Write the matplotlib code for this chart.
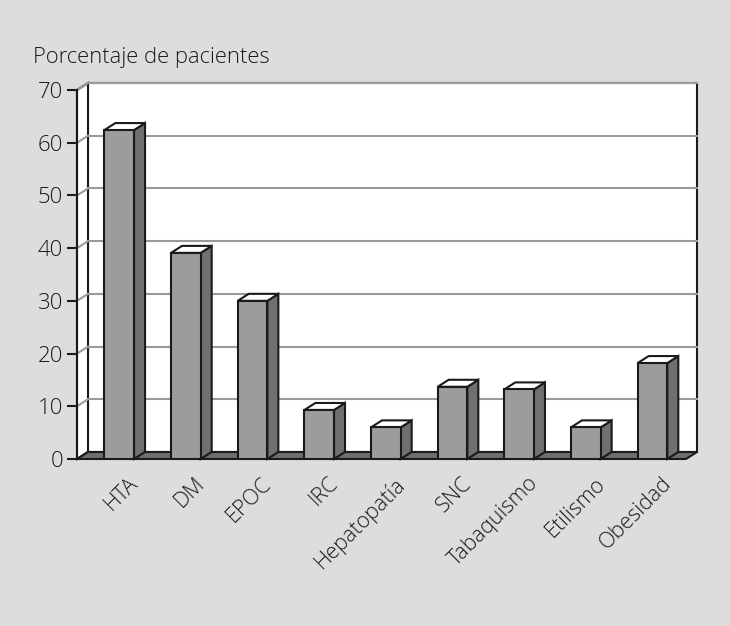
import matplotlib.pyplot as plt
from matplotlib.patches import Polygon

categorias = ["HTA", "DM", "EPOC", "IRC", "Hepatopatía", "SNC",
              "Tabaquismo", "Etilismo", "Obesidad"]
porcentajes = [62.4, 39.1, 30.0, 9.3, 6.0, 13.7, 13.2, 6.0, 18.2]
yticks = [0, 10, 20, 30, 40, 50, 60, 70]

fondo = "#dddddd"
cara = "#9c9c9e"
lado = "#707070"
suelo = "#6e6e6e"
rejilla = "#9a9a9a"

plt.rcParams["font.family"] = ["Open Sans", "DejaVu Sans"]
plt.rcParams["font.weight"] = "light"

fig = plt.figure(figsize=(7.3, 6.26), dpi=100, facecolor=fondo)
W, H = 730, 626
ax = fig.add_axes([77 / W, 1 - 459 / H, 609 / W, 369 / H])
ax.set_xlim(-0.633, 8.503)
ax.set_ylim(0, 70)
ax.patch.set_visible(False)

# profundidad 3D en unidades de datos (11 px a la derecha, 7 px arriba)
inv = ax.transData.inverted()
p0 = ax.transData.transform((0, 0))
dx, dy = inv.transform((p0[0] + 11, p0[1] + 7)) - inv.transform(p0)
x0, x1 = ax.get_xlim()
ytop = 70

def poli(pts, fc, z, lw=1.5):
    ax.add_patch(Polygon(pts, closed=True, facecolor=fc, edgecolor="#1a1a1a",
                         linewidth=lw, zorder=z, clip_on=False,
                         joinstyle="miter"))

# pared del fondo y pared lateral
poli([(x0 + dx, dy), (x1 + dx, dy), (x1 + dx, ytop + dy), (x0 + dx, ytop + dy)], "white", 1)
poli([(x0, 0), (x0 + dx, dy), (x0 + dx, ytop + dy), (x0, ytop)], "white", 1)

# rejilla
for v in yticks[1:]:
    ax.plot([x0 + dx, x1 + dx], [v + dy, v + dy], color=rejilla, lw=1.5, zorder=2, clip_on=False)
    ax.plot([x0, x0 + dx], [v, v + dy], color=rejilla, lw=1.5, zorder=2, clip_on=False)

# suelo
poli([(x0, 0), (x1, 0), (x1 + dx, dy), (x0 + dx, dy)], suelo, 3)

# barras
w = 0.445
for i, v in enumerate(porcentajes):
    l, r = i - w / 2, i + w / 2
    poli([(r, 0), (r + dx, dy), (r + dx, v + dy), (r, v)], lado, 4)
    poli([(l, v), (r, v), (r + dx, v + dy), (l + dx, v + dy)], "white", 4)
ax.bar(range(len(categorias)), porcentajes, width=w, color=cara,
       edgecolor="#1a1a1a", linewidth=1.5, zorder=5)

# ejes
for s in ["top", "right", "bottom"]:
    ax.spines[s].set_visible(False)
ax.spines["left"].set_linewidth(1.5)
ax.spines["left"].set_color("#1a1a1a")
ax.set_yticks(yticks)
ax.tick_params(axis="y", length=7, width=1.5, color="#1a1a1a", pad=3,
               labelsize=16, labelcolor="#1a1a1a")
ax.set_xticks([i + 0.13 for i in range(len(categorias))])
ax.set_xticklabels(categorias, rotation=45, ha="right", rotation_mode="anchor",
                   fontsize=15.5, color="#1a1a1a")
ax.tick_params(axis="x", length=0, pad=10)

fig.text(33 / W, 1 - 63 / H, "Porcentaje de pacientes", fontsize=15.8,
         color="#1a1a1a", ha="left", va="baseline")

fig.savefig("out.png", dpi=100, facecolor=fondo)
